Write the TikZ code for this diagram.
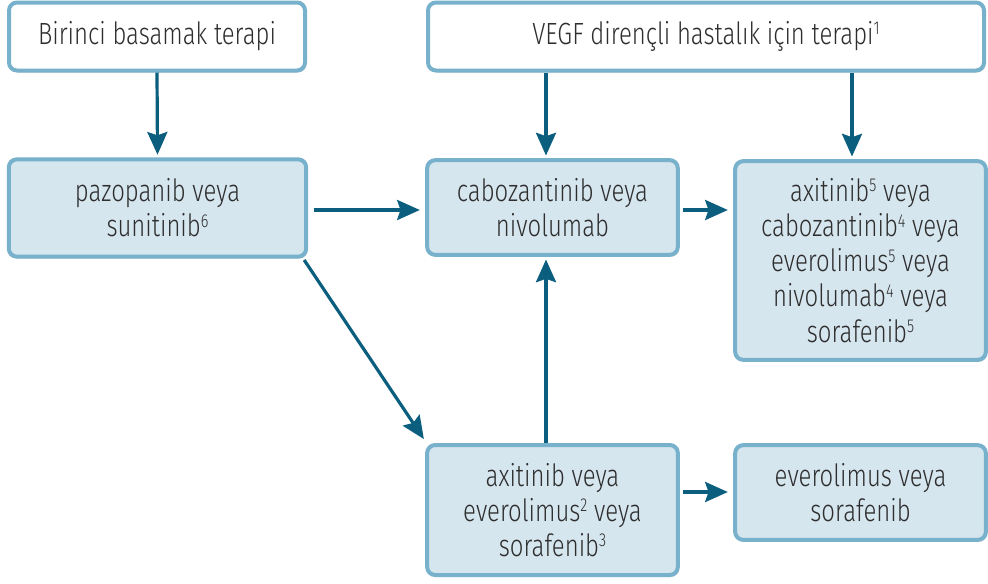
\documentclass[tikz,border=0pt]{standalone}
\usepackage{fontspec}
\setmainfont{Fira Sans Light}[FakeStretch=0.78]
\usetikzlibrary{arrows.meta,shadows}
\definecolor{bord}{HTML}{78B1CB}
\definecolor{boxfill}{HTML}{D6E6EF}
\definecolor{arrc}{HTML}{0B5E7E}
\definecolor{txt}{HTML}{2E2E2E}
\newcommand\supnum[1]{\raisebox{0.32em}{\fontsize{14}{14}\selectfont #1}}
\begin{document}
\begin{tikzpicture}[x=0.75pt,y=-0.75pt,
  box/.style={draw=bord,line width=3pt,rounded corners=6pt,text=txt,align=center,
    font=\fontsize{23}{26.3}\selectfont,inner sep=0pt,
    drop shadow={shadow xshift=1pt,shadow yshift=-1.5pt,opacity=0.25}},
  wbox/.style={box,fill=white},
  bbox/.style={box,fill=boxfill},
  arr/.style={draw=arrc,line width=2.4pt,-{Stealth[length=17pt,width=15pt,inset=2.5pt]}}]
\useasboundingbox (0,0) rectangle (988,583);
\node[wbox,minimum width=222pt,minimum height=51pt] (b1) at (157,36.5) {Birinci basamak terapi};
\node[wbox,minimum width=417pt,minimum height=51pt] (b2) at (706,36.5) {VEGF dirençli hastalık için terapi\supnum{1}};
\node[bbox,minimum width=223pt,minimum height=73pt] (b3) at (157.5,208) {pazopanib veya\\sunitinib\supnum{6}};
\node[bbox,minimum width=188pt,minimum height=71pt] (b4) at (552.5,207.5) {cabozantinib veya\\nivolumab};
\node[bbox,minimum width=188pt,minimum height=149pt] (b5) at (860.5,260.5) {axitinib\supnum{5} veya\\cabozantinib\supnum{4} veya\\everolimus\supnum{5} veya\\nivolumab\supnum{4} veya\\sorafenib\supnum{5}};
\node[bbox,minimum width=188pt,minimum height=97.5pt] (b6) at (552.5,510) {axitinib veya\\everolimus\supnum{2} veya\\sorafenib\supnum{3}};
\node[bbox,minimum width=188pt,minimum height=71pt] (b7) at (860.5,492.5) {everolimus veya\\sorafenib};
\draw[arr] (b1.south) -- ([yshift=2pt]b3.north);
\draw[arr] (b2.south -| 546,0) -- ([yshift=2pt]b4.north -| 546,0);
\draw[arr] (b2.south -| 852,0) -- ([yshift=2pt]b5.north -| 852,0);
\draw[arr] ([xshift=4pt]b3.east |- 0,210) -- ([xshift=-4pt]b4.west |- 0,210);
\draw[arr] ([xshift=2pt]b4.east |- 0,210) -- ([xshift=-4pt]b5.west |- 0,210);
\draw[arr] ([xshift=2pt]b6.east |- 0,492) -- ([xshift=-4pt]b7.west |- 0,492);
\draw[arr] (b6.north -| 546,0) -- ([yshift=-2pt]b4.south -| 546,0);
\draw[arr] ([shift={(-3pt,-1pt)}]b3.south east) -- ([shift={(-1pt,3pt)}]b6.north west);
\end{tikzpicture}
\end{document}
